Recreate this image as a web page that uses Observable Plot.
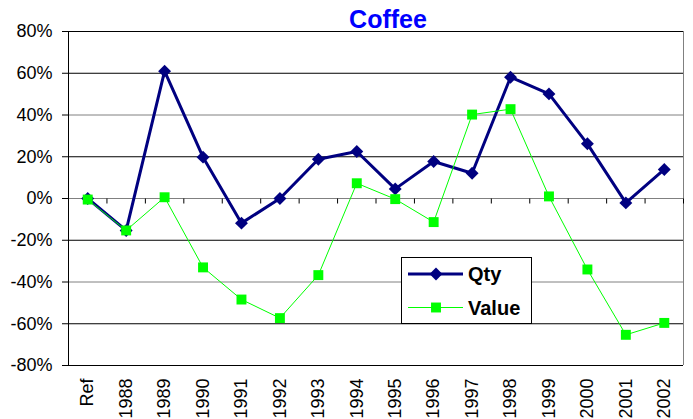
<!DOCTYPE html>
<html><head><meta charset="utf-8">
<script src="https://cdn.jsdelivr.net/npm/d3@7"></script>
<script src="https://cdn.jsdelivr.net/npm/@observablehq/plot@0.6"></script>
<style>
body{margin:0;background:#fff;font-family:Arial,"Liberation Sans",sans-serif;}
#wrap{position:relative;width:693px;height:419px;overflow:hidden;background:#fff;}
#legend{position:absolute;left:401px;top:257px;}
</style></head><body><div id="wrap"></div>
<script>
const title = "Coffee";
const categories = ["Ref","1988","1989","1990","1991","1992","1993","1994","1995","1996","1997","1998","1999","2000","2001","2002"];
const qty = [0,-15.3,61,19.8,-11.8,0,18.8,22.5,4.6,17.7,12.1,58.1,50.1,26.2,-2.1,13.9];
const value = [-0.5,-15.3,0.6,-33,-48.4,-57.3,-36.7,7.3,-0.3,-11.3,40.2,42.8,1,-34,-65.3,-59.6];
const yTicks = [-80,-60,-40,-20,0,20,40,60,80];
const seriesNames = ["Qty","Value"];
const seriesColors = ["#000080","#00FF00"];

const idx = d3.range(categories.length);
const bounds = d3.range(categories.length).map(i => i + 0.5);
const grayTicks = yTicks.filter(d => d === 40 || d === 0 || d === -40);
const blackTicks = yTicks.filter(d => !grayTicks.includes(d));

const chart = Plot.plot({
  width: 693, height: 419,
  marginLeft: 68, marginRight: 10, marginTop: 31, marginBottom: 54,
  style: {fontFamily: "Arial, 'Liberation Sans', sans-serif", fontSize: "18px", background: "white", overflow: "visible"},
  x: {type: "linear", domain: [-0.5, categories.length - 0.5]},
  y: {domain: [-80, 80]},
  marks: [
    Plot.ruleY(blackTicks, {y: d => d, stroke: "#000", strokeWidth: 1}),
    Plot.ruleY(grayTicks, {y: d => d, stroke: "#808080", strokeWidth: 1}),
    Plot.ruleX([-0.5], {x: d => d, y1: -80, y2: 80, stroke: "#000", strokeWidth: 1}),
    Plot.ruleX([categories.length - 0.5], {x: d => d, y1: -80, y2: 80, stroke: "#808080", strokeWidth: 1}),
    Plot.link(bounds, {x1: d => d, x2: d => d, y1: 0, y2: -2.4, stroke: "#000", strokeWidth: 1}),
    Plot.axisY(yTicks, {anchor: "left", tickFormat: d => d + "%", tickSize: 6, tickPadding: 10, fontSize: 18, stroke: "#000"}),
    Plot.axisX(idx, {anchor: "bottom", tickFormat: i => categories[i], tickRotate: -90, tickSize: 0, tickPadding: 13, fontSize: 18}),
    Plot.line(idx, {x: i => i, y: i => qty[i], stroke: seriesColors[0], strokeWidth: 3}),
    Plot.dot(idx, {x: i => i, y: i => qty[i], symbol: "diamond2", r: 5.8, fill: seriesColors[0], stroke: "none"}),
    Plot.line(idx, {x: i => i, y: i => value[i], stroke: seriesColors[1], strokeWidth: 1}),
    Plot.dot(idx, {x: i => i, y: i => value[i], symbol: "square", r: 5.6, fill: seriesColors[1], stroke: "none"}),
    Plot.text([title], {frameAnchor: "top", dy: -12, dx: 12, lineAnchor: "middle", fontSize: 25, fontWeight: "bold", fill: "#0000FF"})
  ]
});
const wrap = document.getElementById("wrap");
wrap.appendChild(chart);

// legend
const lg = d3.select(wrap).append("svg").attr("id", "legend").attr("width", 132).attr("height", 68);
lg.append("rect").attr("x", 0.5).attr("y", 0.5).attr("width", 130).attr("height", 66).attr("fill", "#fff").attr("stroke", "#000");
const rowsY = [17, 50.5];
seriesNames.forEach((name, k) => {
  const g = lg.append("g").attr("transform", `translate(0,${rowsY[k]})`);
  g.append("line").attr("x1", 7).attr("x2", 62).attr("y1", 0).attr("y2", 0).attr("stroke", seriesColors[k]).attr("stroke-width", k === 0 ? 3 : 1);
  if (k === 0) g.append("path").attr("d", d3.symbol(d3.symbolDiamond2, Math.PI * 5.8 * 5.8)()).attr("transform", "translate(35,0)").attr("fill", seriesColors[k]);
  else g.append("path").attr("d", d3.symbol(d3.symbolSquare, Math.PI * 5.6 * 5.6)()).attr("transform", "translate(35,0)").attr("fill", seriesColors[k]);
  g.append("text").attr("x", 67).attr("y", 0).attr("dy", "0.36em").attr("font-size", 20).attr("font-weight", "bold").attr("font-family", "Arial, 'Liberation Sans', sans-serif").text(name);
});
</script></body></html>
